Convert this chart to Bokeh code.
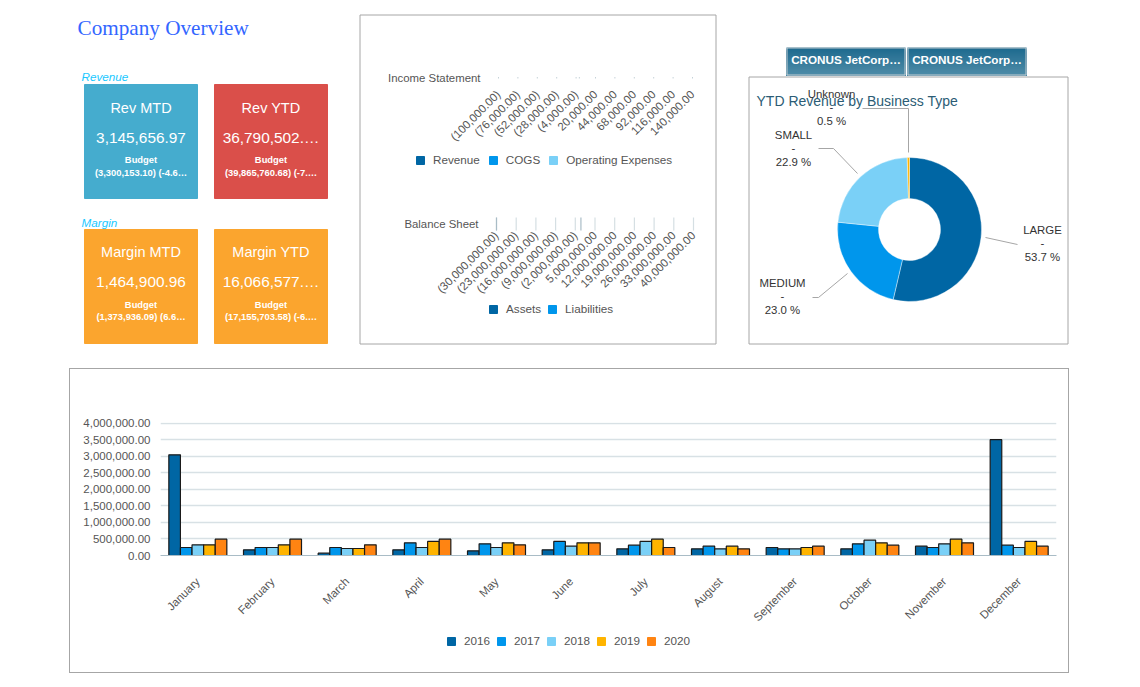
import math
from bokeh.core.properties import value
from bokeh.embed import file_html
from bokeh.layouts import column
from bokeh.resources import INLINE
from bokeh.models import (ColumnDataSource, FactorRange, FixedTicker, Label, Legend, LegendItem,
                          NumeralTickFormatter, Range1d)
from bokeh.plotting import figure
from bokeh.transform import dodge

# ---------- data ----------
months = ["January", "February", "March", "April", "May", "June", "July", "August",
          "September", "October", "November", "December"]
y2016 = [3050000, 172000, 70000, 172000, 142000, 172000, 202000, 202000, 243000, 202000, 283000, 3510000]
y2017 = [243000, 243000, 243000, 385000, 354000, 425000, 314000, 283000, 202000, 354000, 243000, 314000]
y2018 = [324000, 243000, 212000, 243000, 243000, 283000, 425000, 202000, 202000, 465000, 354000, 243000]
y2019 = [324000, 324000, 212000, 425000, 385000, 385000, 496000, 283000, 243000, 385000, 496000, 425000]
y2020 = [496000, 496000, 324000, 496000, 324000, 385000, 243000, 202000, 283000, 314000, 385000, 283000]
years = ["2016", "2017", "2018", "2019", "2020"]
noi_ticks = [0, 500000, 1000000, 1500000, 2000000, 2500000, 3000000, 3500000, 4000000]

pie_labels = ["LARGE", "MEDIUM", "SMALL", "Unknown"]
pie_shares = [53.7, 23.0, 22.9, 0.5]

income_ticks = [-100000, -76000, -52000, -28000, -4000, 20000, 44000, 68000, 92000, 116000, 140000]
balance_ticks = [-30000000, -23000000, -16000000, -9000000, -2000000, 5000000, 12000000,
                 19000000, 26000000, 33000000, 40000000]
income_series = ["Revenue", "COGS", "Operating Expenses"]
balance_series = ["Assets", "Liabilities"]

tile_titles = ["Rev MTD", "Rev YTD", "Margin MTD", "Margin YTD"]
tile_values = ["3,145,656.97", "36,790,502.…", "1,464,900.96", "16,066,577.…"]
tile_budgets = ["(3,300,153.10) (-4.6…", "(39,865,760.68) (-7.…", "(1,373,936.09) (6.6…", "(17,155,703.58) (-6.…"]

# ---------- styles ----------
FONT = "Liberation Sans"
C = ["#0066a4", "#0096ec", "#7ad0f7", "#ffb400", "#ff8412"]
TXT = "#555555"
TITLE = "#2b5c75"
PANEL = "#a6a6a6"
W, TOP_H = 1136, 368
OX, OY = 1, 1


def Y(py):
    return -py


top = figure(width=W, height=TOP_H, x_range=Range1d(OX, OX + W), y_range=Range1d(Y(OY + TOP_H), Y(OY)),
             output_backend="svg", toolbar_location=None, min_border=0, outline_line_color=None)
top.xaxis.visible = False
top.yaxis.visible = False
top.grid.visible = False


def text(p, x, y, s, size, color, align="center", style="normal", font=FONT, **kw):
    p.text([x], [Y(y)], text=[s], text_font=value(font), text_font_size=f"{size}px", text_color=color,
           text_align=align, text_baseline="middle", text_font_style=style, **kw)


def poly(xs, ys, color=PANEL, width=1.0):
    top.line([v + 1 for v in xs], [Y(v + 1) for v in ys], line_color=color, line_width=width)


def box(x0, x1, y0, y1, fill=None, line=PANEL, lw=1.0):
    top.quad(left=[x0], right=[x1], top=[Y(y0)], bottom=[Y(y1)], fill_color=fill, line_color=line, line_width=lw)


# heading
text(top, 78, 28, "Company Overview", 21.2, "#3366ff", align="left", font="Liberation Serif")
text(top, 82, 77, "Revenue", 11.7, "#19c8ff", align="left", style="italic")
text(top, 82, 223, "Margin", 11.7, "#19c8ff", align="left", style="italic")

# KPI tiles
tile_x = [85, 215, 85, 215]
tile_y = [85, 85, 230, 230]
tile_c = ["#45acce", "#da4f4a", "#fba52e", "#fba52e"]
tile_dy = [(23, 53, 75, 88), (23, 53, 75, 88), (22, 52, 75, 87), (22, 52, 75, 87)]
for i in range(4):
    x, y = tile_x[i], tile_y[i]
    d = tile_dy[i]
    box(x, x + 113, y, y + 114, fill=tile_c[i], line=tile_c[i])
    cx = x + 56.5
    text(top, cx, y + d[0], tile_titles[i], 14.5, "#ffffff")
    text(top, cx, y + d[1], tile_values[i], 15.4, "#ffffff")
    text(top, cx, y + d[2], "Budget", 9.4, "#ffffff", style="bold")
    text(top, cx, y + d[3], tile_budgets[i], 9.4, "#ffffff", style="bold")

# middle panel
box(360.5, 716.5, 15.5, 344.5)


def extra_range(v0, px0, v1, px1):
    k = (v1 - v0) / (px1 - px0)
    return Range1d(v0 + (OX - px0) * k, v0 + (OX + W - px0) * k)


top.extra_x_ranges["income"] = extra_range(income_ticks[0], 499, income_ticks[-1], 693)
top.extra_x_ranges["balance"] = extra_range(balance_ticks[0], 497, balance_ticks[-1], 694)


def fmt(v):
    return f"({abs(v):,.2f})" if v < 0 else f"{v:,.2f}"


def cat_labels(name, ticks, ypos):
    top.text(x=ticks, y=[Y(ypos)] * len(ticks), text=[fmt(v) for v in ticks], angle=math.radians(45),
             x_range_name=name, text_align="right", text_baseline="middle", text_font=value(FONT),
             text_font_size="11.5px", text_color=TXT)


cat_labels("income", income_ticks, 93)
cat_labels("balance", balance_ticks, 234)
top.segment(x0=income_ticks + [0], x1=income_ticks + [0], y0=[Y(77.5)] * 12, y1=[Y(79)] * 12,
            x_range_name="income", line_color="#c5d2d8", line_width=1)
top.segment(x0=balance_ticks, x1=balance_ticks, y0=[Y(218)] * 11, y1=[Y(231)] * 11,
            x_range_name="balance", line_color="#d5dfe3", line_width=1.2)
top.segment(x0=[balance_ticks[0], 0], x1=[balance_ticks[0], 0], y0=[Y(218)] * 2, y1=[Y(231)] * 2,
            x_range_name="balance", line_color="#a9bcc6", line_width=1.2)
text(top, 481, 78, "Income Statement", 11.4, TXT, align="right")
text(top, 479, 224, "Balance Sheet", 11.4, TXT, align="right")


def make_legend(p, names, colors, loc, sx, sy, spacing=7):
    # swatches come from bars placed outside the visible y range, so that they carry no outline
    items = []
    for n, c in zip(names, colors):
        r = p.quad(left=[sx], right=[sx], top=[sy], bottom=[sy], fill_color=c, line_color=c)
        items.append(LegendItem(label=n, renderers=[r]))
    lg = Legend(items=items, orientation="horizontal", location=loc, glyph_width=10, glyph_height=10,
                label_standoff=8, spacing=spacing, padding=0, margin=0, border_line_color=None,
                background_fill_alpha=0, label_text_font=FONT, label_text_font_size="11.7px",
                label_text_color=TXT, label_height=12)
    p.add_layout(lg, "center")


make_legend(top, income_series, C[:3], (415, TOP_H - 166), 0, 100, spacing=8)
make_legend(top, balance_series, C[:2], (488, TOP_H - 315), 0, 100, spacing=6)

# buttons
for bx in (787, 908):
    steps = 28
    for k in range(steps):
        t = k / (steps - 1)
        col = "#%02x%02x%02x" % (round(0x1d + t * (0x4f - 0x1d)), round(0x6a + t * (0x8c - 0x6a)), round(0x8e + t * (0xa8 - 0x8e)))
        top.quad(left=[bx], right=[bx + 119], top=[Y(48 + k)], bottom=[Y(76)], fill_color=col, line_color=None)
    box(bx + .5, bx + 118.5, 48.5, 75.5, line="#c3ccd1")
    text(top, bx + 59.5, 60, "CRONUS JetCorp…", 11.7, "#ffffff", style="bold")

# pie panel
box(749.5, 1068.5, 77.5, 344.5)
cum = [0.0]
for s in pie_shares:
    cum.append(cum[-1] + s)
total = cum[-1]
starts = [math.pi / 2 - 2 * math.pi * c / total for c in cum[:-1]]
ends = [math.pi / 2 - 2 * math.pi * c / total for c in cum[1:]]
top.annular_wedge(x=[910] * 4, y=[Y(230)] * 4, inner_radius=31, outer_radius=72,
                  start_angle=ends, end_angle=starts, fill_color=[C[0], C[1], C[2], C[3]],
                  line_color="#ffffff", line_width=0.4)
poly([862, 908, 908], [108, 108, 152])
poly([818, 833, 857], [148, 148, 173])
poly([985, 1017], [237, 244])
poly([812, 818, 847], [297, 297, 273])
text(top, 757, 101, "YTD Revenue by Business Type", 14, TITLE, align="left")
label_pos = {"LARGE": (1043, 230), "MEDIUM": (783, 283), "SMALL": (794, 135), "Unknown": (832, 94)}
for name, share in zip(pie_labels, pie_shares):
    lx, ly = label_pos[name]
    text(top, lx, ly, name, 11.4, "#333333")
    text(top, lx, ly + 13.5, "-", 11.4, "#333333")
    text(top, lx, ly + 27, f"{share:.1f} %", 11.4, "#333333")

# ---------- bottom chart ----------
BX0, BY0 = 70, 369
FW, H1, H2 = 998, 262, 41
bot = figure(width=FW, height=H1, x_range=FactorRange(factors=months, range_padding=0, factor_padding=0),
             y_range=Range1d(0, 4030000), output_backend="svg", toolbar_location=None,
             min_border_left=160 - BX0, min_border_right=BX0 + FW - 1056, min_border_top=422 - BY0,
             min_border_bottom=BY0 + H1 - 555, outline_line_color=None)
bot.add_layout(Label(x=8, y=23, x_units="canvas", y_units="canvas", text="Net Operating Income by Month by Year",
                     text_font=FONT, text_font_size="14px", text_color=TITLE, text_baseline="middle"))
src = ColumnDataSource(dict(month=months, y2016=y2016, y2017=y2017, y2018=y2018, y2019=y2019, y2020=y2020))
bar_step = 11.6 / 74.67
for i, yr in enumerate(years):
    bot.vbar(x=dodge("month", (i - 2) * bar_step, range=bot.x_range), top="y" + yr, width=bar_step, source=src,
             fill_color=C[i], line_color="#1a1a1a", line_width=1.2)
bot.xgrid.visible = False
bot.ygrid.grid_line_color = "#d8e1e5"
bot.ygrid.grid_line_width = 1.3
bot.yaxis.ticker = FixedTicker(ticks=noi_ticks)
bot.yaxis.formatter = NumeralTickFormatter(format="0,0.00")
bot.yaxis.axis_line_color = None
bot.yaxis.major_tick_line_color = None
bot.yaxis.minor_tick_line_color = None
bot.yaxis.major_tick_out = 0
bot.yaxis.major_tick_in = 0
bot.yaxis.major_label_standoff = 10
bot.xaxis.axis_line_color = "#a9bcc6"
bot.xaxis.major_tick_line_color = None
bot.xaxis.major_tick_out = 0
bot.xaxis.major_tick_in = 0
bot.xaxis.major_label_orientation = math.radians(45)
bot.xaxis.major_label_standoff = 24
for ax in (bot.xaxis, bot.yaxis):
    ax.major_label_text_font = FONT
    ax.major_label_text_color = TXT
    ax.major_label_text_font_size = "11.5px"

lf = figure(width=FW, height=H2, x_range=Range1d(0, 1), y_range=Range1d(0, 1), output_backend="svg",
            toolbar_location=None, min_border_left=160 - BX0, min_border_right=BX0 + FW - 1056,
            min_border_top=0, min_border_bottom=0, outline_line_color=None)
lf.xaxis.visible = False
lf.yaxis.visible = False
lf.grid.visible = False
make_legend(lf, years, C, (286, 25), 5, 5, spacing=6)

panel = column(bot, lf, spacing=0, margin=(0, 0, 0, BX0 - 1), width=FW + 2, height=H1 + H2 + 2,
               styles={"border": f"1px solid {PANEL}", "box-sizing": "border-box"})

open("out.html", "w").write(file_html([top, panel], INLINE))
